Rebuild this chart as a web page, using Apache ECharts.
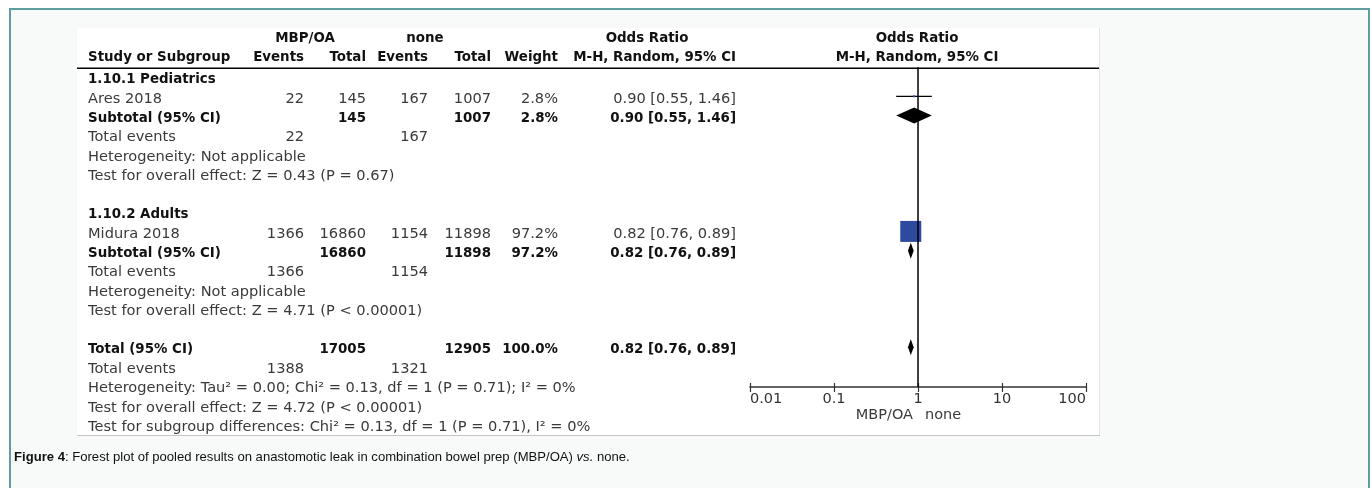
<!DOCTYPE html>
<html>
<head>
<meta charset="utf-8">
<script src="https://cdn.jsdelivr.net/npm/echarts@6/dist/echarts.min.js"></script>
<style>
html, body { margin: 0; padding: 0; background: #fff; }
#forest { width: 1372px; height: 488px; }
</style>
</head>
<body>
<div id="forest"></div>
<script>
// studies
var groupNames = ['1.10.1 Pediatrics', '1.10.2 Adults'];
var studyNames = ['Ares 2018', 'Midura 2018'];
var studyGroup = [0, 1];
var expEvents = [22, 1366];
var expTotal = [145, 16860];
var ctrlEvents = [167, 1154];
var ctrlTotal = [1007, 11898];
var studyWeight = [2.8, 97.2];
var studyOR = [0.90, 0.82];
var studyLow = [0.55, 0.76];
var studyHigh = [1.46, 0.89];

// subgroup totals
var subExpEvents = [22, 1366];
var subExpTotal = [145, 16860];
var subCtrlEvents = [167, 1154];
var subCtrlTotal = [1007, 11898];
var subWeight = [2.8, 97.2];
var subOR = [0.90, 0.82];
var subLow = [0.55, 0.76];
var subHigh = [1.46, 0.89];
var subHetero = ['Heterogeneity: Not applicable', 'Heterogeneity: Not applicable'];
var subEffect = ['Test for overall effect: Z = 0.43 (P = 0.67)', 'Test for overall effect: Z = 4.71 (P < 0.00001)'];

// overall
var totExpEvents = 1388, totExpTotal = 17005, totCtrlEvents = 1321, totCtrlTotal = 12905;
var totWeight = 100.0, totOR = 0.82, totLow = 0.76, totHigh = 0.89;
var totHetero = 'Heterogeneity: Tau² = 0.00; Chi² = 0.13, df = 1 (P = 0.71); I² = 0%';
var totEffect = 'Test for overall effect: Z = 4.72 (P < 0.00001)';
var subgroupTest = 'Test for subgroup differences: Chi² = 0.13, df = 1 (P = 0.71), I² = 0%';

var axisTicks = [0.01, 0.1, 1, 10, 100];
var favourLabels = ['MBP/OA', 'none'];

// column anchors (px) of the table, header row positions
var COL = { label: 88, ee: 304, et: 366, ce: 428, ct: 491, w: 558, or: 736 };
var H1 = -2.15, H2 = -1.15;

function orText(e, l, h) {
  return e.toFixed(2) + ' [' + l.toFixed(2) + ', ' + h.toFixed(2) + ']';
}

var cells = [];
function cell(x, row, text, align, bold, size) {
  cells.push({ x: x, row: row, text: String(text), align: align, bold: !!bold, size: size });
}

// header
cell(305, H1, 'MBP/OA', 'center', true);
cell(425, H1, 'none', 'center', true);
cell(647, H1, 'Odds Ratio', 'center', true);
cell(917, H1, 'Odds Ratio', 'center', true);
cell(COL.label, H2, 'Study or Subgroup', 'left', true);
cell(COL.ee, H2, 'Events', 'right', true);
cell(COL.et, H2, 'Total', 'right', true);
cell(COL.ce, H2, 'Events', 'right', true);
cell(COL.ct, H2, 'Total', 'right', true);
cell(COL.w, H2, 'Weight', 'right', true);
cell(COL.or, H2, 'M-H, Random, 95% CI', 'right', true);
cell(917, H2, 'M-H, Random, 95% CI', 'center', true);

var studyPts = [];
var diamondPts = [];
var row = 0;
groupNames.forEach(function (g, gi) {
  cell(COL.label, row, g, 'left', true);
  row++;
  for (var i = 0; i < studyNames.length; i++) {
    if (studyGroup[i] !== gi) continue;
    cell(COL.label, row, studyNames[i], 'left');
    cell(COL.ee, row, expEvents[i], 'right');
    cell(COL.et, row, expTotal[i], 'right');
    cell(COL.ce, row, ctrlEvents[i], 'right');
    cell(COL.ct, row, ctrlTotal[i], 'right');
    cell(COL.w, row, studyWeight[i].toFixed(1) + '%', 'right');
    cell(COL.or, row, orText(studyOR[i], studyLow[i], studyHigh[i]), 'right');
    studyPts.push([studyOR[i], row, studyLow[i], studyHigh[i], studyWeight[i]]);
    row++;
  }
  cell(COL.label, row, 'Subtotal (95% CI)', 'left', true);
  cell(COL.et, row, subExpTotal[gi], 'right', true);
  cell(COL.ct, row, subCtrlTotal[gi], 'right', true);
  cell(COL.w, row, subWeight[gi].toFixed(1) + '%', 'right', true);
  cell(COL.or, row, orText(subOR[gi], subLow[gi], subHigh[gi]), 'right', true);
  diamondPts.push([subOR[gi], row, subLow[gi], subHigh[gi]]);
  row++;
  cell(COL.label, row, 'Total events', 'left');
  cell(COL.ee, row, subExpEvents[gi], 'right');
  cell(COL.ce, row, subCtrlEvents[gi], 'right');
  row++;
  cell(COL.label, row, subHetero[gi], 'left');
  row++;
  cell(COL.label, row, subEffect[gi], 'left');
  row++;
  row++;
});
cell(COL.label, row, 'Total (95% CI)', 'left', true);
cell(COL.et, row, totExpTotal, 'right', true);
cell(COL.ct, row, totCtrlTotal, 'right', true);
cell(COL.w, row, totWeight.toFixed(1) + '%', 'right', true);
cell(COL.or, row, orText(totOR, totLow, totHigh), 'right', true);
diamondPts.push([totOR, row, totLow, totHigh]);
row++;
cell(COL.label, row, 'Total events', 'left');
cell(COL.ee, row, totExpEvents, 'right');
cell(COL.ce, row, totCtrlEvents, 'right');
row++;
cell(COL.label, row, totHetero, 'left');
row++;
cell(COL.label, row, totEffect, 'left');
row++;
cell(COL.label, row, subgroupTest, 'left');
cell(913, 17.4, favourLabels[0], 'right', false, 14.5);
cell(925, 17.4, favourLabels[1], 'left', false, 14.5);

var maxWeight = Math.max.apply(null, studyWeight);
var FONT = '"DejaVu Sans", sans-serif';

var chart = echarts.init(document.getElementById('forest'), null, { renderer: 'canvas' });
var option = {
  animation: false,
  backgroundColor: 'transparent',
  grid: [
    { left: 0, right: 0, top: 21.8, bottom: 41.6 },
    { left: 750, right: 286, top: 67.35, bottom: 101 }
  ],
  xAxis: [
    { gridIndex: 0, type: 'value', min: 0, max: 1372, show: false },
    {
      gridIndex: 1, type: 'log', logBase: 10, min: 0.01, max: 100, position: 'bottom',
      axisLine: { show: true, onZero: false, lineStyle: { color: '#333', width: 1.5 } },
      axisTick: { show: true, length: 5, customValues: axisTicks, lineStyle: { color: '#333', width: 1.2 } },
      axisLabel: {
        show: true, customValues: axisTicks, margin: 5, color: '#333',
        fontFamily: FONT, fontSize: 14.5,
        alignMinLabel: 'left', alignMaxLabel: 'right',
        formatter: function (v) { return String(+v.toPrecision(3)); }
      },
      splitLine: { show: false }
    },
    {
      gridIndex: 1, type: 'log', logBase: 10, min: 0.01, max: 100, position: 'bottom', offset: 0,
      axisLine: { show: false, onZero: false },
      axisTick: { show: true, inside: true, length: 4, customValues: axisTicks, lineStyle: { color: '#333', width: 1.2 } },
      axisLabel: { show: false },
      splitLine: { show: false }
    }
  ],
  yAxis: [
    { gridIndex: 0, type: 'value', min: -3, max: 19, inverse: true, show: false },
    { gridIndex: 1, type: 'value', min: -0.5, max: 16.06, inverse: true, show: false }
  ],
  graphic: [
    { type: 'rect', z: -10, silent: true, shape: { x: 10, y: 9, width: 1359, height: 520 },
      style: { fill: '#f8fafa', stroke: '#5f9ea0', lineWidth: 2 } },
    { type: 'rect', z: -9, silent: true, shape: { x: 77, y: 28, width: 1022, height: 407 },
      style: { fill: '#ffffff' } },
    { type: 'line', z: -8, silent: true, shape: { x1: 1099.5, y1: 28, x2: 1099.5, y2: 435 },
      style: { stroke: '#e4e4e4', lineWidth: 1 } },
    { type: 'line', z: -8, silent: true, shape: { x1: 77, y1: 435.5, x2: 1100, y2: 435.5 },
      style: { stroke: '#c4c4c4', lineWidth: 1 } },
    { type: 'line', z: 1, silent: true, shape: { x1: 77, y1: 68.3, x2: 1099, y2: 68.3 },
      style: { stroke: '#000', lineWidth: 1.5 } },
    { type: 'text', x: 14, y: 457, silent: true,
      style: {
        text: '{b|Figure 4}{n|: Forest plot of pooled results on anastomotic leak in combination bowel prep (MBP/OA) }{i|vs.}{n| none.}',
        verticalAlign: 'middle',
        rich: {
          b: { fontFamily: '"Liberation Sans", Arial', fontSize: 13.1, fontWeight: 'bold', fill: '#111' },
          n: { fontFamily: '"Liberation Sans", Arial', fontSize: 13.1, fill: '#111' },
          i: { fontFamily: '"Liberation Sans", Arial', fontSize: 13.1, fontStyle: 'italic', fill: '#111' }
        }
      } }
  ],
  series: [
    {
      // table text
      type: 'custom', xAxisIndex: 0, yAxisIndex: 0, silent: true, z: 3,
      data: cells.map(function (c) { return [c.x, c.row]; }),
      renderItem: function (params, api) {
        var c = cells[params.dataIndex];
        var p = api.coord([api.value(0), api.value(1)]);
        var size = c.size || (c.bold ? 13.4 : 14.6);
        return {
          type: 'text', x: p[0], y: p[1],
          style: {
            text: c.text,
            fill: c.bold ? '#111' : '#3a3a3a',
            font: (c.bold ? 'bold ' : '') + size + 'px ' + FONT,
            align: c.align, verticalAlign: 'middle'
          }
        };
      }
    },
    {
      // line of no effect
      type: 'scatter', xAxisIndex: 1, yAxisIndex: 1, silent: true, z: 1,
      symbolSize: 0, data: [[1, 0]],
      markLine: {
        silent: true, symbol: 'none', label: { show: false },
        lineStyle: { color: '#000', width: 1.5, type: 'solid' },
        data: [{ xAxis: 1 }]
      }
    },
    {
      // confidence intervals
      type: 'custom', xAxisIndex: 1, yAxisIndex: 1, silent: true, z: 2,
      data: studyPts,
      renderItem: function (params, api) {
        var r = api.value(1);
        var lo = api.coord([api.value(2), r]);
        var hi = api.coord([api.value(3), r]);
        return { type: 'line', shape: { x1: lo[0], y1: lo[1], x2: hi[0], y2: hi[1] },
          style: { stroke: '#000', lineWidth: 1.2 } };
      }
    },
    {
      // study weights
      type: 'scatter', xAxisIndex: 1, yAxisIndex: 1, silent: true, z: 4,
      symbol: 'rect',
      symbolSize: function (v) { return Math.max(2, 21 * v[4] / maxWeight); },
      itemStyle: { color: '#2e4a9e', opacity: 1 },
      data: studyPts
    },
    {
      // pooled diamonds
      type: 'custom', xAxisIndex: 1, yAxisIndex: 1, silent: true, z: 5,
      data: diamondPts,
      renderItem: function (params, api) {
        var r = api.value(1);
        var c = api.coord([api.value(0), r]);
        var lo = api.coord([api.value(2), r]);
        var hi = api.coord([api.value(3), r]);
        return { type: 'polygon',
          shape: { points: [[lo[0], c[1]], [c[0], c[1] - 8], [hi[0], c[1]], [c[0], c[1] + 8]] },
          style: { fill: '#000' } };
      }
    }
  ]
};
chart.setOption(option);
</script>
</body>
</html>
